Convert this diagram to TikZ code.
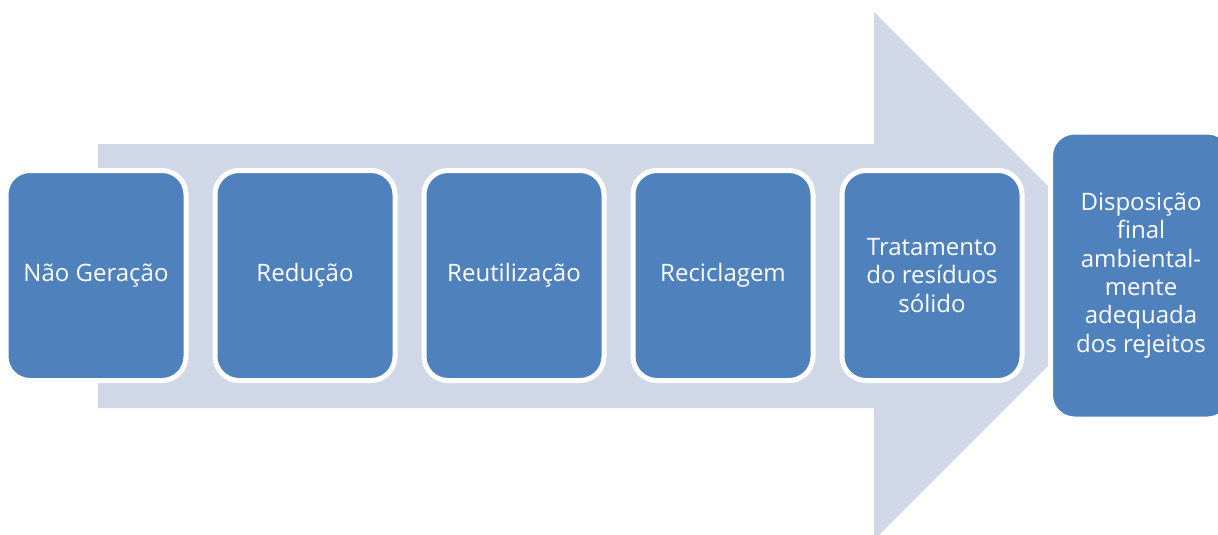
\documentclass[tikz,border=0pt]{standalone}
\usepackage{fontspec}
\setmainfont{Open Sans}
\definecolor{arrowfill}{HTML}{D0D8E8}
\definecolor{boxfill}{HTML}{4F81BD}
\begin{document}
\begin{tikzpicture}[x=1pt, y=-1pt, node distance=209pt]
		% Node style
		\tikzstyle{stage} = [rectangle, rounded corners=24pt, draw=white, line width=5pt, fill=boxfill, text=white, align=center, minimum width=180pt, minimum height=210pt, font=\fontsize{24}{28.3}\selectfont]
		
		\useasboundingbox (0,0) rectangle (1218,535);
		
		% Big arrow behind the stages
		\fill[arrowfill] (98,144) -- (874,144) -- (874,12) -- (1138,276) -- (874,540) -- (874,408) -- (98,408) -- cycle;
		
		% Nodes
		\node[stage] (naogeracao) at (96,275.5) {Não Geração};
		\node[stage, right of=naogeracao] (reducao) {Redução};
		\node[stage, right of=reducao] (reutilizacao) {Reutilização};
		\node[stage, right of=reutilizacao] (reciclagem) {Reciclagem};
		\node[stage, right of=reciclagem] (tratamento) {Tratamento\\do resíduos\\sólido};
		\node[stage, right of=tratamento, minimum width=181pt, minimum height=287pt] (disposicao) {Disposição\\final\\ambiental-\\mente\\adequada\\dos rejeitos};
	\end{tikzpicture}
\end{document}
